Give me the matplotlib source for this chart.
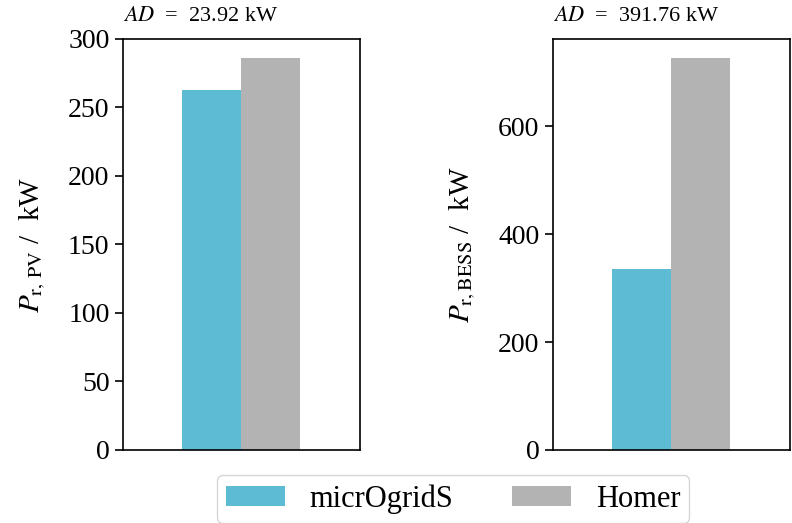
import matplotlib
matplotlib.use("Agg")
import matplotlib.pyplot as plt
import numpy as np

plt.rcParams['font.family'] = ['Liberation Serif', 'DejaVu Serif']
plt.rcParams['mathtext.fontset'] = 'stix'

# data
tools = ["micrOgridS", "Homer"]
colors = ["#5dbbd3", "#b3b3b3"]
pv_vals = [262.5, 286.42]
bess_vals = [335.0, 726.76]
ylabels = [r"$P_{\mathrm{r,\,PV}}$ /  kW", r"$P_{\mathrm{r,BESS}}$ /  kW"]

fig = plt.figure(figsize=(7.92, 5.23), dpi=100)
ax1 = fig.add_axes([0.155, 0.1396, 0.299, 0.786])
ax2 = fig.add_axes([0.698, 0.1396, 0.299, 0.786])

width = 0.25
offs = [-width/2, width/2]
handles = []
for ax, vals, yl in zip([ax1, ax2], [pv_vals, bess_vals], ylabels):
    for i in range(len(tools)):
        h = ax.bar(offs[i], vals[i], width, color=colors[i], label=tools[i])
        if ax is ax1:
            handles.append(h)
    ax.set_xlim(-0.5, 0.5)
    ax.set_xticks([])
    ax.set_ylabel(yl, fontsize=21)
    ax.yaxis.set_label_coords(-0.315, 0.5)
    ax.tick_params(axis='y', labelsize=20, length=6, width=1.2)
    for s in ax.spines.values():
        s.set_linewidth(1.2)
    ad = abs(vals[1] - vals[0])
    ax.set_title(r"$AD$  =  %.2f kW" % ad, loc='left', fontsize=16, pad=13)

ax1.set_ylim(0, 300)
ax1.set_yticks(np.arange(0, 301, 50))
ax2.set_ylim(0, 762)
ax2.set_yticks([0, 200, 400, 600])

fig.legend(handles, tools, loc='lower center', bbox_to_anchor=(0.572, -0.029),
           ncol=2, fontsize=22, frameon=True, edgecolor='#cccccc',
           handlelength=1.95, handleheight=0.66, columnspacing=1.9,
           handletextpad=0.8, borderpad=0.3, borderaxespad=0.5)

fig.savefig("out.png", dpi=100)
